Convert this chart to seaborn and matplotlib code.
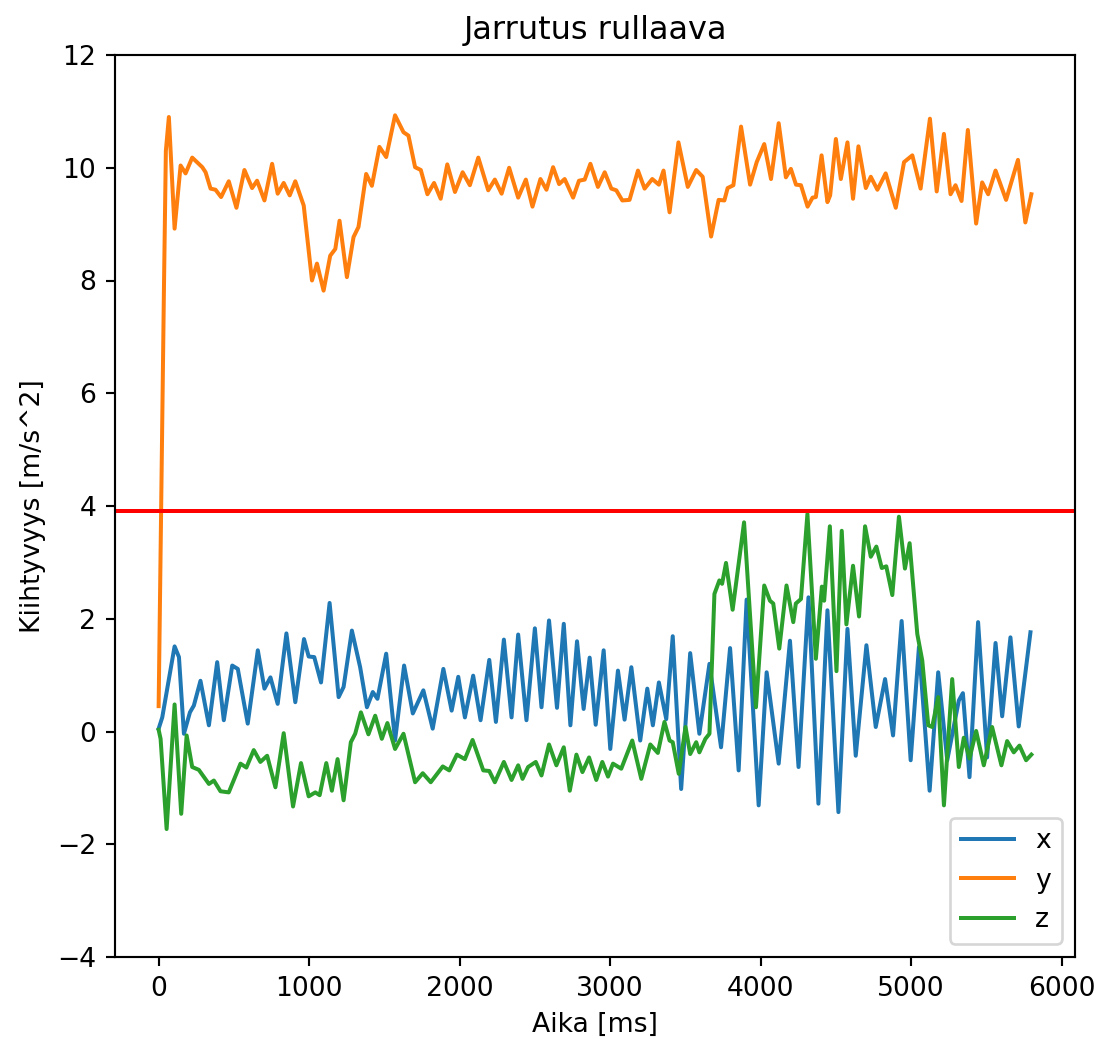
import matplotlib
matplotlib.use("Agg")
import matplotlib.pyplot as plt
import seaborn as sns
import pandas as pd

# Acceleration samples per axis (time in ms, acceleration in m/s^2)
t_x = [0, 24, 106, 135, 168, 208, 234, 278, 334, 389, 433, 489, 526, 592, 659,
       703, 743, 791, 849, 908, 966, 997, 1034, 1079, 1136, 1196, 1229, 1284,
       1339, 1384, 1423, 1454, 1512, 1571, 1631, 1689, 1759, 1821, 1892, 1947,
       1991, 2035, 2090, 2139, 2197, 2241, 2294, 2345, 2389, 2444, 2500, 2544,
       2594, 2647, 2692, 2736, 2780, 2824, 2864, 2904, 2957, 3001, 3052, 3096,
       3141, 3200, 3247, 3284, 3324, 3373, 3416, 3472, 3532, 3593, 3660, 3737,
       3797, 3854, 3907, 3987, 4040, 4120, 4195, 4252, 4318, 4384, 4444, 4517,
       4577, 4632, 4703, 4765, 4827, 4880, 4937, 4997, 5052, 5123, 5180, 5240,
       5317, 5344, 5388, 5445, 5505, 5561, 5605, 5660, 5715, 5793]
acc_x = [0.05, 0.25, 1.51, 1.32, -0.04, 0.34, 0.46, 0.90, 0.11, 1.23, 0.20, 1.17,
         1.11, 0.14, 1.44, 0.76, 0.96, 0.49, 1.74, 0.52, 1.64, 1.33, 1.32, 0.87,
         2.28, 0.61, 0.79, 1.79, 1.14, 0.43, 0.70, 0.58, 1.38, -0.16, 1.17, 0.32,
         0.73, 0.05, 1.11, 0.37, 0.97, 0.25, 0.99, 0.20, 1.27, 0.17, 1.63, 0.25,
         1.72, 0.20, 1.83, 0.43, 1.97, 0.42, 1.91, 0.11, 1.60, 0.40, 1.31, 0.12,
         1.44, -0.31, 1.08, 0.21, 1.14, -0.16, 0.76, 0.11, 0.87, 0.22, 1.69, -1.02,
         1.39, -0.04, 1.20, -0.28, 1.48, -0.69, 2.34, -1.31, 1.05, -0.57, 1.61,
         -0.63, 2.38, -1.28, 2.15, -1.43, 1.82, -0.43, 1.53, 0.08, 0.93, -0.07,
         1.96, -0.51, 1.50, -1.05, 1.05, -0.51, 0.55, 0.68, -0.81, 1.94, -0.46,
         1.57, 0.27, 1.67, 0.09, 1.76]

t_y = [0, 35, 48, 68, 106, 146, 179, 223, 290, 312, 345, 378, 415, 466, 517, 570,
       621, 654, 703, 754, 791, 831, 871, 908, 964, 1019, 1052, 1096, 1140, 1174,
       1202, 1251, 1295, 1328, 1379, 1417, 1467, 1512, 1571, 1627, 1660, 1704,
       1742, 1786, 1830, 1874, 1918, 1969, 2020, 2068, 2124, 2190, 2234, 2279,
       2329, 2389, 2440, 2484, 2537, 2577, 2621, 2661, 2698, 2754, 2793, 2831,
       2869, 2919, 2964, 3008, 3041, 3081, 3129, 3185, 3229, 3280, 3324, 3355,
       3395, 3454, 3516, 3572, 3615, 3671, 3721, 3759, 3781, 3819, 3870, 3930,
       3974, 4024, 4069, 4120, 4168, 4201, 4235, 4268, 4312, 4345, 4367, 4405,
       4444, 4462, 4500, 4533, 4577, 4614, 4650, 4699, 4732, 4776, 4831, 4898,
       4953, 5008, 5063, 5125, 5170, 5218, 5262, 5295, 5335, 5377, 5432, 5472,
       5512, 5561, 5631, 5710, 5759, 5799]
acc_y = [0.45, 7.8, 10.3, 10.9, 8.92, 10.04, 9.90, 10.18, 10.01, 9.92,
         9.63, 9.61, 9.48, 9.76, 9.29, 9.96, 9.64, 9.77, 9.42, 10.07,
         9.54, 9.73, 9.51, 9.76, 9.33, 8.00, 8.30, 7.82, 8.44, 8.56,
         9.06, 8.06, 8.77, 8.95, 9.89, 9.68, 10.37, 10.19, 10.93, 10.63,
         10.57, 10.01, 9.96, 9.53, 9.73, 9.45, 10.06, 9.57, 9.92, 9.69,
         10.18, 9.60, 9.79, 9.54, 10.00, 9.47, 9.79, 9.31, 9.80, 9.61,
         10.01, 9.71, 9.80, 9.47, 9.77, 9.79, 10.07, 9.66, 9.92, 9.63,
         9.60, 9.42, 9.43, 9.95, 9.63, 9.80, 9.70, 9.95, 9.21, 10.45,
         9.66, 9.96, 9.84, 8.78, 9.43, 9.42, 9.64, 9.69, 10.73, 9.70,
         10.10, 10.42, 9.80, 10.79, 9.83, 9.98, 9.70, 9.69, 9.31, 9.47,
         9.48, 10.22, 9.39, 9.51, 10.51, 9.80, 10.45, 9.45, 10.38, 9.64,
         9.84, 9.61, 9.90, 9.29, 10.10, 10.22, 9.63, 10.87, 9.58, 10.60,
         9.53, 9.69, 9.41, 10.67, 9.01, 9.74, 9.53, 9.95, 9.43, 10.14,
         9.03, 9.53]

t_z = [0, 13, 53, 106, 150, 186, 223, 267, 334, 367, 411, 466, 544, 583, 632,
       676, 721, 776, 831, 893, 946, 997, 1041, 1070, 1114, 1151, 1189, 1229,
       1277, 1306, 1344, 1394, 1439, 1483, 1520, 1571, 1627, 1704, 1755, 1808,
       1888, 1931, 1982, 2035, 2086, 2157, 2197, 2234, 2294, 2345, 2389, 2418,
       2455, 2506, 2544, 2594, 2643, 2692, 2732, 2776, 2816, 2860, 2908, 2948,
       2986, 3019, 3074, 3147, 3207, 3267, 3317, 3361, 3395, 3416, 3456, 3501,
       3532, 3572, 3593, 3633, 3660, 3693, 3726, 3744, 3770, 3814, 3890, 3969,
       4024, 4062, 4084, 4124, 4172, 4217, 4234, 4268, 4311, 4367, 4407, 4422,
       4460, 4504, 4539, 4570, 4614, 4654, 4694, 4732, 4769, 4805, 4835, 4875,
       4919, 4959, 4990, 5041, 5074, 5114, 5140, 5180, 5218, 5273, 5317, 5350,
       5388, 5432, 5483, 5538, 5600, 5638, 5682, 5720, 5764, 5799]
acc_z = [0.03, -0.13, -1.73, 0.48, -1.46, -0.07, -0.63, -0.68, -0.93, -0.87,
         -1.06, -1.08, -0.57, -0.64, -0.33, -0.54, -0.43, -0.99, -0.03, -1.33,
         -0.56, -1.15, -1.08, -1.13, -0.56, -1.05, -0.49, -1.22, -0.19, -0.04,
         0.34, -0.05, 0.28, -0.13, 0.15, -0.31, -0.04, -0.90, -0.74, -0.90,
         -0.62, -0.69, -0.41, -0.49, -0.15, -0.69, -0.70, -0.90, -0.54, -0.86,
         -0.60, -0.84, -0.63, -0.54, -0.78, -0.23, -0.60, -0.28, -1.05, -0.41,
         -0.72, -0.46, -0.86, -0.54, -0.80, -0.57, -0.66, -0.16, -0.84, -0.23,
         -0.38, 0.17, -0.16, -0.19, -0.75, 0.08, -0.40, -0.19, -0.37, -0.13,
         -0.04, 2.44, 2.68, 2.62, 2.99, 2.16, 3.71, 0.43, 2.59,
         2.32, 2.27, 1.47, 2.59, 1.94, 2.27, 2.35, 3.86, 1.29, 2.57,
         2.32, 3.64, 1.07, 3.56, 1.90, 2.94, 2.04, 3.64, 3.10, 3.28,
         2.90, 2.93, 2.42, 3.81, 2.89, 3.34, 1.73, 1.26, 0.11, 0.08,
         0.61, -1.31, 0.93, -0.63, -0.11, -0.48, 0.01, -0.60, 0.08, -0.60,
         -0.17, -0.37, -0.25, -0.51, -0.41]

threshold = 3.92
axis_names = ["x", "y", "z"]
colors = ["#1f77b4", "#ff7f0e", "#2ca02c"]

frames = []
for name, t, v in zip(axis_names, [t_x, t_y, t_z], [acc_x, acc_y, acc_z]):
    frames.append(pd.DataFrame({"Aika": t, "Kiihtyvyys": v, "akseli": name}))
df = pd.concat(frames, ignore_index=True)

dpi = 192
fig, ax = plt.subplots(figsize=(1108 / dpi, 1039 / dpi), dpi=dpi)
fig.subplots_adjust(left=115 / 1108, right=1075 / 1108,
                    bottom=1 - 957 / 1039, top=1 - 55 / 1039)

sns.lineplot(data=df, x="Aika", y="Kiihtyvyys", hue="akseli",
             palette=dict(zip(axis_names, colors)), estimator=None,
             sort=False, linewidth=1.5, ax=ax)
ax.axhline(threshold, color="red", linewidth=1.5)

ax.set_ylim(-4, 12)
ax.set_title("Jarrutus rullaava")
ax.set_xlabel("Aika [ms]")
ax.set_ylabel("Kiihtyvyys [m/s^2]")
sns.move_legend(ax, "lower right", title=None)

fig.savefig("out.png", dpi=dpi)
